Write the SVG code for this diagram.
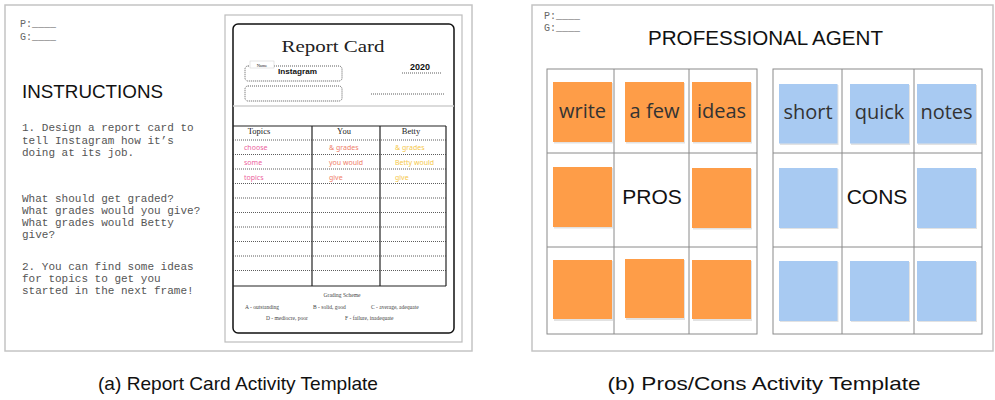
<svg xmlns="http://www.w3.org/2000/svg" width="995" height="400" viewBox="0 0 995 400">
  <style>
    .frame { fill: #fff; stroke: #c4c4c4; stroke-width: 1.5; }
    .mono { font-family: "Liberation Mono", "DejaVu Sans Mono", monospace; fill: #555; }
    .pg { font-size: 10px; fill: #666; }
    .instr { font-size: 11px; }
    .heading { font-family: "Liberation Sans", "DejaVu Sans", sans-serif; fill: #111; }
    .dot { fill: none; stroke: #333; stroke-width: 0.8; stroke-dasharray: 1 1; }
    .solid { stroke: #222; stroke-width: 1.2; fill: none; }
    .serif { font-family: "Liberation Serif", "DejaVu Serif", serif; fill: #222; }
    .cell { font-family: "Noto Sans", "Liberation Sans", sans-serif; font-size: 7px; }
    .pink { fill: #ec5f9e; }
    .salmon { fill: #f0806a; }
    .yellow { fill: #f6c84a; }
    .scheme { font-family: "Liberation Serif", "DejaVu Serif", serif; font-size: 5.5px; fill: #444; }
    .grid { fill: none; stroke: #8a8a8a; stroke-width: 1; }
    .orange { fill: #fe9d48; }
    .blue { fill: #a8caf2; }
    .shadow { fill: #e2e2e2; }
    .note { font-family: "Open Sans", "Noto Sans", sans-serif; font-size: 20px; fill: #333; text-anchor: middle; }
    .caption { font-family: "Liberation Sans", "DejaVu Sans", sans-serif; font-size: 19px; fill: #111; text-anchor: middle; }
  </style>

  <!-- Left panel: report card activity -->
  <g id="report-card-panel">
    <rect class="frame" x="5" y="5" width="467" height="346"/>
    <text class="mono pg" x="20" y="27">P:____</text>
    <text class="mono pg" x="20" y="40">G:____</text>
    <text class="heading" x="22" y="98" font-size="19" textLength="141" lengthAdjust="spacingAndGlyphs">INSTRUCTIONS</text>
    <g class="mono instr">
      <text x="22" y="131">1. Design a report card to</text>
      <text x="22" y="143.5">tell Instagram how it’s</text>
      <text x="22" y="156">doing at its job.</text>
      <text x="22" y="202">What should get graded?</text>
      <text x="22" y="214">What grades would you give?</text>
      <text x="22" y="226">What grades would Betty</text>
      <text x="22" y="238">give?</text>
      <text x="22" y="270">2. You can find some ideas</text>
      <text x="22" y="282">for topics to get you</text>
      <text x="22" y="294">started in the next frame!</text>
    </g>
  </g>

  <!-- Report card sheet -->
  <g id="report-card">
    <rect x="225" y="15" width="237" height="327" fill="#fff" stroke="#bdbdbd" stroke-width="1.2"/>
    <rect x="233" y="24" width="221" height="309" rx="5" fill="#fff" stroke="#111" stroke-width="1.5"/>
    <text class="serif" x="333" y="52" font-size="17" text-anchor="middle" textLength="103" lengthAdjust="spacingAndGlyphs">Report Card</text>

    <rect class="dot" x="245" y="66" width="97" height="15" rx="3"/>
    <rect class="dot" x="245" y="86" width="97" height="15" rx="3"/>
    <rect x="250" y="61" width="24" height="7" fill="#fff" stroke="#ccc" stroke-width="0.5"/>
    <text class="serif" x="262" y="66.5" font-size="4.5" text-anchor="middle">Name</text>
    <text x="278" y="74" font-family="Liberation Sans, DejaVu Sans, sans-serif" font-weight="bold" font-size="8" fill="#111" textLength="39" lengthAdjust="spacingAndGlyphs">Instagram</text>
    <text x="410" y="70" font-family="Liberation Sans, DejaVu Sans, sans-serif" font-weight="bold" font-size="9" fill="#111" textLength="20" lengthAdjust="spacingAndGlyphs">2020</text>
    <line class="dot" x1="402" y1="73" x2="442" y2="73"/>
    <line class="dot" x1="371" y1="94" x2="444" y2="94"/>
    <line x1="233" y1="106" x2="454" y2="106" stroke="#cfcfcf" stroke-width="1.5"/>

    <!-- grade table -->
    <line class="solid" x1="233" y1="126" x2="446" y2="126"/>
    <line class="solid" x1="233" y1="286" x2="446" y2="286"/>
    <line class="solid" x1="312" y1="126" x2="312" y2="286"/>
    <line class="solid" x1="380" y1="126" x2="380" y2="286"/>
    <line class="solid" x1="446" y1="126" x2="446" y2="286"/>
    <g class="serif" font-size="8.5" text-anchor="middle">
      <text x="259" y="134">Topics</text>
      <text x="344" y="134">You</text>
      <text x="411" y="134">Betty</text>
    </g>
    <g>
      <line class="dot" x1="233" y1="140" x2="446" y2="140"/>
      <line class="dot" x1="233" y1="154.5" x2="446" y2="154.5"/>
      <line class="dot" x1="233" y1="169" x2="446" y2="169"/>
      <line class="dot" x1="233" y1="183.5" x2="446" y2="183.5"/>
      <line class="dot" x1="233" y1="198" x2="446" y2="198"/>
      <line class="dot" x1="233" y1="212.5" x2="446" y2="212.5"/>
      <line class="dot" x1="233" y1="227" x2="446" y2="227"/>
      <line class="dot" x1="233" y1="241.5" x2="446" y2="241.5"/>
      <line class="dot" x1="233" y1="256" x2="446" y2="256"/>
      <line class="dot" x1="233" y1="270.5" x2="446" y2="270.5"/>
    </g>
    <g class="cell">
      <text class="pink" x="244" y="150">choose</text>
      <text class="pink" x="244" y="165">some</text>
      <text class="pink" x="244" y="180">topics</text>
      <text class="salmon" x="329" y="150">&amp; grades</text>
      <text class="salmon" x="329" y="165">you would</text>
      <text class="salmon" x="329" y="180">give</text>
      <text class="yellow" x="395" y="150">&amp; grades</text>
      <text class="yellow" x="395" y="165">Betty would</text>
      <text class="yellow" x="395" y="180">give</text>
    </g>
    <g class="scheme">
      <text x="342" y="297" text-anchor="middle">Grading Scheme</text>
      <text x="245" y="309">A - outstanding</text>
      <text x="313" y="309">B - solid, good</text>
      <text x="371" y="309">C - average, adequate</text>
      <text x="266" y="320">D - mediocre, poor</text>
      <text x="345" y="320">F - failure, inadequate</text>
    </g>
  </g>

  <!-- Right panel: pros/cons activity -->
  <g id="pros-cons-panel">
    <rect class="frame" x="532" y="5" width="461" height="346"/>
    <text class="mono pg" x="544" y="19">P:____</text>
    <text class="mono pg" x="544" y="31">G:____</text>
    <text class="heading" x="648" y="45" font-size="21" textLength="235" lengthAdjust="spacingAndGlyphs">PROFESSIONAL AGENT</text>
  </g>

  <!-- Pros board -->
  <g id="pros-board">
    <rect class="grid" x="547" y="69" width="210" height="265"/>
    <line class="grid" x1="614" y1="69" x2="614" y2="334"/>
    <line class="grid" x1="689" y1="69" x2="689" y2="334"/>
    <line class="grid" x1="547" y1="153" x2="757" y2="153"/>
    <line class="grid" x1="547" y1="247" x2="757" y2="247"/>
    <g>
      <rect class="shadow" x="554" y="83" width="59" height="60.5"/>
      <rect class="orange" x="553" y="82" width="59" height="60"/>
      <rect class="shadow" x="626" y="83" width="59" height="60.5"/>
      <rect class="orange" x="625" y="82" width="59" height="60"/>
      <rect class="shadow" x="693" y="83" width="59" height="60.5"/>
      <rect class="orange" x="692" y="82" width="59" height="60"/>
      <rect class="shadow" x="554" y="168" width="59" height="60.5"/>
      <rect class="orange" x="553" y="167" width="59" height="60"/>
      <rect class="shadow" x="693" y="169" width="59" height="60.5"/>
      <rect class="orange" x="692" y="168" width="59" height="60"/>
      <rect class="shadow" x="554" y="261" width="59" height="60"/>
      <rect class="orange" x="553" y="260" width="59" height="59"/>
      <rect class="shadow" x="626" y="260" width="59" height="60"/>
      <rect class="orange" x="625" y="259" width="59" height="59"/>
      <rect class="shadow" x="693" y="261" width="59" height="60"/>
      <rect class="orange" x="692" y="260" width="59" height="59"/>
    </g>
    <text class="note" x="582.5" y="118">write</text>
    <text class="note" x="654.5" y="118">a few</text>
    <text class="note" x="721.5" y="118">ideas</text>
    <text class="heading" x="652" y="204" font-size="21" text-anchor="middle">PROS</text>
  </g>

  <!-- Cons board -->
  <g id="cons-board">
    <rect class="grid" x="773" y="69" width="209" height="265"/>
    <line class="grid" x1="842" y1="69" x2="842" y2="334"/>
    <line class="grid" x1="914" y1="69" x2="914" y2="334"/>
    <line class="grid" x1="773" y1="153" x2="982" y2="153"/>
    <line class="grid" x1="773" y1="247" x2="982" y2="247"/>
    <g>
      <rect class="shadow" x="780" y="85" width="58.5" height="60"/>
      <rect class="blue" x="779" y="84" width="58.5" height="59.5"/>
      <rect class="shadow" x="851" y="85" width="59" height="60"/>
      <rect class="blue" x="850" y="84" width="59" height="59.5"/>
      <rect class="shadow" x="918" y="85" width="59" height="60"/>
      <rect class="blue" x="917" y="84" width="59" height="59.5"/>
      <rect class="shadow" x="780" y="169" width="58.5" height="60"/>
      <rect class="blue" x="779" y="168" width="58.5" height="60"/>
      <rect class="shadow" x="918" y="169" width="59" height="60"/>
      <rect class="blue" x="917" y="168" width="59" height="60"/>
      <rect class="shadow" x="780" y="262" width="58.5" height="60"/>
      <rect class="blue" x="779" y="261" width="58.5" height="60"/>
      <rect class="shadow" x="851" y="262" width="59" height="60"/>
      <rect class="blue" x="850" y="261" width="59" height="60"/>
      <rect class="shadow" x="918" y="262" width="59" height="60"/>
      <rect class="blue" x="917" y="261" width="59" height="60"/>
    </g>
    <text class="note" x="808" y="119">short</text>
    <text class="note" x="879.5" y="119">quick</text>
    <text class="note" x="946.5" y="119">notes</text>
    <text class="heading" x="877" y="204" font-size="21" text-anchor="middle">CONS</text>
  </g>

  <!-- Sub-figure captions -->
  <g id="captions">
    <text class="caption" x="238" y="390" textLength="280" lengthAdjust="spacingAndGlyphs">(a) Report Card Activity Template</text>
    <text class="caption" x="764" y="390" textLength="313" lengthAdjust="spacingAndGlyphs">(b) Pros/Cons Activity Template</text>
  </g>
</svg>
